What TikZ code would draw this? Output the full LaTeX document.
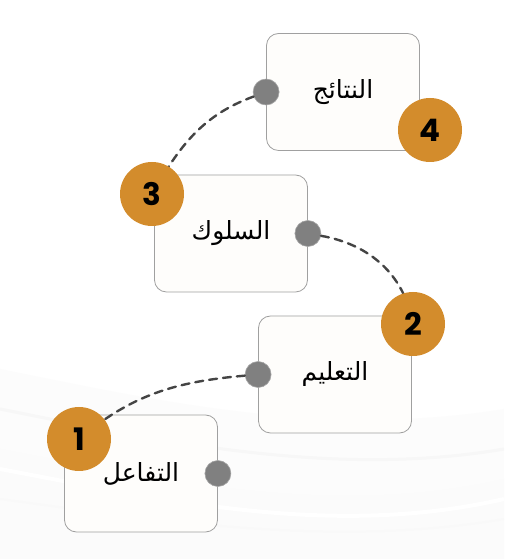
\documentclass[tikz,border=0pt]{standalone}
\usepackage{fontspec}
\TeXXeTstate=1
\newfontfamily\arabicfont[Script=Arabic]{DejaVu Sans}
\newfontfamily\numfont{Poppins}
\definecolor{orangedot}{RGB}{211,140,44}
\definecolor{boxfill}{RGB}{254,253,251}
\definecolor{boxline}{RGB}{160,160,160}
\definecolor{portgray}{RGB}{128,128,128}
\definecolor{linkgray}{RGB}{68,68,68}
\begin{document}
\begin{tikzpicture}[x=1pt,y=1pt,
  stepbox/.style={draw=boxline, line width=0.8pt, fill=boxfill, rounded corners=12pt,
    minimum width=153pt, minimum height=117pt, inner sep=0pt,
    font=\arabicfont\fontsize{25}{30}\selectfont},
  numdot/.style={circle, fill=orangedot, minimum size=64pt, inner sep=0pt,
    font=\numfont\bfseries\fontsize{31}{36}\selectfont, text=black},
  portdot/.style={circle, fill=portgray, draw=portgray!70, line width=0.6pt, minimum size=26pt, inner sep=0pt},
  link/.style={draw=linkgray, line width=2.4pt, dash pattern=on 8pt off 6pt, line cap=round}]
\useasboundingbox (0,0) rectangle (504,559);
\fill[white] (0,0) rectangle (504,559);
% faint background waves
\fill[gray!2] (0,0) -- (0,190) .. controls (150,160) and (320,120) .. (504,150) -- (504,0) -- cycle;
\fill[gray!3] (0,0) -- (0,110) .. controls (160,80) and (330,40) .. (504,80) -- (504,0) -- cycle;
\draw[gray!6, line width=3pt] (0,150) .. controls (150,120) and (330,80) .. (504,110);
\draw[gray!5, line width=2pt] (0,60) .. controls (150,40) and (330,10) .. (504,40);
\draw[white, line width=4pt] (0,90) .. controls (160,60) and (330,20) .. (504,60);

% boxes
\node[stepbox] (b4) at (343,467) {\beginR النتائج\endR};
\node[stepbox] (b3) at (231,325.5) {\beginR السلوك\endR};
\node[stepbox] (b2) at (335,184.5) {\beginR التعليم\endR};
\node[stepbox] (b1) at (141,85.5) {\beginR التفاعل\endR};

% ports
\node[portdot] (p4) at (b4.west) {};
\node[portdot] (p3) at (b3.east) {};
\node[portdot] (p2) at (b2.west) {};
\node[portdot] (p1) at (b1.east) {};

% numbers (coordinates for connector ends)
\coordinate (c4) at (430,429);
\coordinate (c3) at (152,365);
\coordinate (c2) at (413,235);
\coordinate (c1) at (79,120);

% connectors
\path[link] (p4) to[out=200, in=60] (c3);
\path[link] (p3) to[out=-10, in=100] (c2);
\path[link] (p2) to[out=185, in=40] (c1);

\node[numdot] (n4) at (c4) {4};
\node[numdot] (n3) at (c3) {3};
\node[numdot] (n2) at (c2) {2};
\node[numdot] (n1) at (c1) {1};
\end{tikzpicture}
\end{document}
